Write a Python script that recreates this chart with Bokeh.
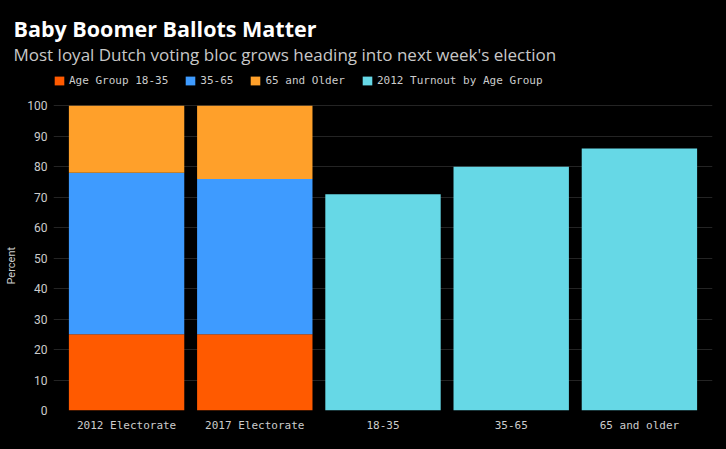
from bokeh.plotting import figure
from bokeh.models import (ColumnDataSource, FactorRange, Range1d, Legend,
                          LegendItem, FixedTicker, Title)
from bokeh.embed import file_html
from bokeh.resources import INLINE

# ---- data ----
categories = ["2012 Electorate", "2017 Electorate", "18-35", "35-65", "65 and older"]
electorate_years = ["2012 Electorate", "2017 Electorate"]
age_18_35 = [25, 25]
age_35_65 = [53, 51]
age_65_older = [22, 24]
turnout_groups = ["18-35", "35-65", "65 and older"]
turnout_2012 = [71, 80, 86]
y_ticks = [0, 10, 20, 30, 40, 50, 60, 70, 80, 90, 100]
legend_labels = ["Age Group 18-35", "35-65", "65 and Older", "2012 Turnout by Age Group"]
colors = ["#ff5a00", "#3e9bff", "#ffa02a", "#66d8e6"]

title_text = "Baby Boomer Ballots Matter"
subtitle_text = "Most loyal Dutch voting bloc grows heading into next week's election"
y_label = "Percent"

stack_src = ColumnDataSource(dict(x=electorate_years, young=age_18_35,
                                  middle=age_35_65, old=age_65_older))
turn_src = ColumnDataSource(dict(x=turnout_groups, turnout=turnout_2012))

p = figure(width=726, height=449, title=None,
           x_range=FactorRange(factors=categories, range_padding=0.07,
                               range_padding_units="absolute"),
           y_range=Range1d(0, 116.5),
           output_backend="svg", toolbar_location=None,
           min_border_left=53, min_border_right=14,
           min_border_top=0, min_border_bottom=39)

p.background_fill_color = "black"
p.border_fill_color = "black"
p.outline_line_color = None
p.styles = {"background-color": "black"}

stack = p.vbar_stack(["young", "middle", "old"], x="x", width=0.9,
                     color=colors[:3], line_color=None, source=stack_src)
turn = p.vbar(x="x", top="turnout", width=0.9, color=colors[3],
              line_color=None, source=turn_src)

# axes
p.xaxis.axis_line_color = None
p.xaxis.major_tick_line_color = None
p.xaxis.minor_tick_line_color = None
p.xaxis.major_tick_out = 0
p.xaxis.major_tick_in = 0
p.xaxis.minor_tick_out = 0
p.xaxis.major_label_text_color = "#cccccc"
p.xaxis.major_label_text_font = "DejaVu Sans Mono"
p.xaxis.major_label_text_font_size = "11px"
p.xaxis.major_label_standoff = 8

p.yaxis.ticker = FixedTicker(ticks=y_ticks)
p.yaxis.axis_line_color = None
p.yaxis.major_tick_line_color = None
p.yaxis.minor_tick_line_color = None
p.yaxis.major_tick_out = 0
p.yaxis.major_tick_in = 0
p.yaxis.minor_tick_out = 0
p.yaxis.major_label_text_color = "#cccccc"
p.yaxis.major_label_text_font = "Roboto"
p.yaxis.major_label_text_font_size = "12px"
p.yaxis.major_label_standoff = 6
# trailing no-break spaces move the visible word down to the bars' mid-height
p.yaxis.axis_label = y_label + "\u00a0" * 24
p.yaxis.axis_label_text_color = "#cccccc"
p.yaxis.axis_label_text_font = "Roboto"
p.yaxis.axis_label_text_font_style = "normal"
p.yaxis.axis_label_text_font_size = "11px"
p.yaxis.axis_label_standoff = 6

p.xgrid.grid_line_color = None
p.ygrid.grid_line_color = "#242424"

# legend inside the frame, near its top
items = [LegendItem(label=legend_labels[i], renderers=[stack[i]]) for i in range(3)]
items.append(LegendItem(label=legend_labels[3], renderers=[turn]))
legend = Legend(items=items, location=(0, 323), orientation="horizontal",
                padding=0, margin=0, spacing=16, glyph_width=12, glyph_height=11,
                label_standoff=4, label_text_font="DejaVu Sans Mono",
                label_text_font_size="11px", label_text_color="#cccccc",
                background_fill_alpha=0, border_line_color=None)
p.add_layout(legend)

# titles: title panel outermost, subtitle panel below it
subtitle = Title(text=subtitle_text, align="left", offset=-40, standoff=-24,
                 vertical_align="top",
                 text_font="Open Sans", text_font_size="17px",
                 text_font_style="normal", text_color="#c8c8c8")
p.add_layout(subtitle, "above")

title = Title(text=title_text, align="left", offset=-40, standoff=23,
              vertical_align="bottom",
              text_font="Open Sans", text_font_size="21.5px",
              text_font_style="bold", text_color="white")
p.add_layout(title, "above")

open("out.html", "w").write(file_html(p, INLINE))
